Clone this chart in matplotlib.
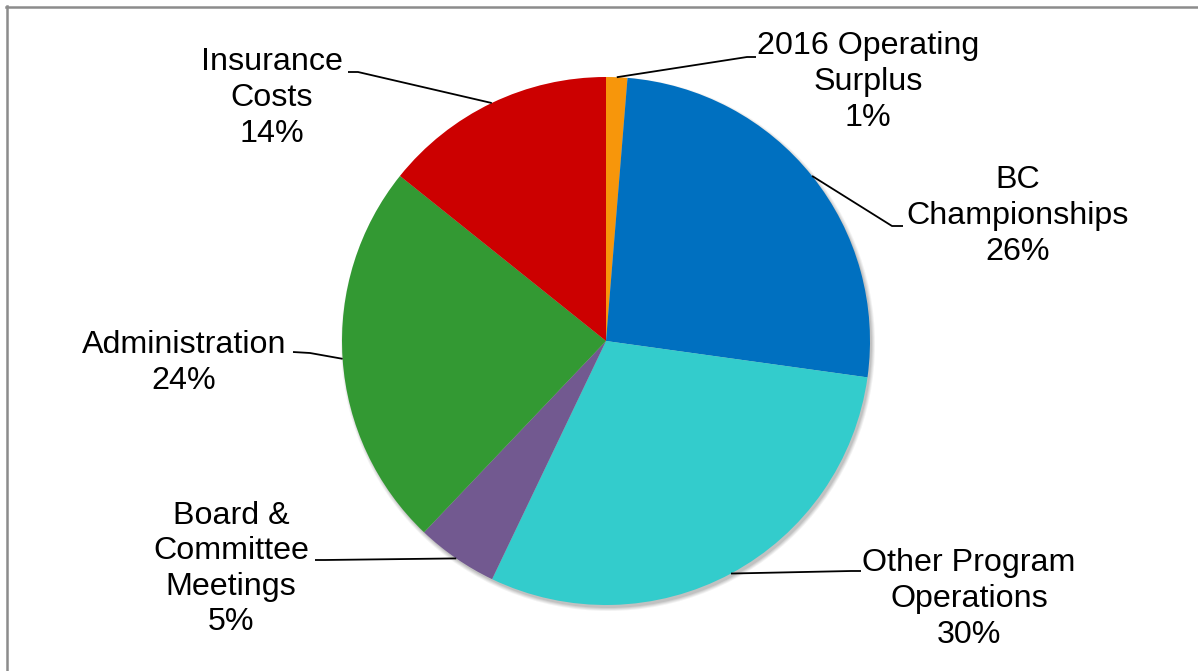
import numpy as np
import matplotlib.pyplot as plt
from matplotlib.patches import Circle
from matplotlib.lines import Line2D

plt.rcParams['font.family'] = ['Liberation Sans', 'DejaVu Sans']

# Data (share of total, %)
categories = ['2016 Operating\nSurplus', 'BC\nChampionships', 'Other Program\nOperations',
              'Board &\nCommittee\nMeetings', 'Administration', 'Insurance\nCosts']
values = [1.3, 25.9, 29.9, 5.0, 23.65, 14.25]
colors = ['#F7960B', '#0070C0', '#33CCCC', '#725990', '#339933', '#CC0000']

# layout, in image pixels (y measured from the top)
W, H = 1198, 671
cx, cy, R = 606, 341, 264
label_pos = [(868, 82), (1018, 216), (969, 599), (231, 569), (184, 363), (272, 98)]
elbows = [(747, 57), (892, 226), (851, 571), (325, 560), (310, 353), (358, 72)]
ends = [(756, 57), (903, 226), (861, 571), (315, 560), (293, 352), (348, 72)]

fig = plt.figure(figsize=(W / 100, H / 100), dpi=100)
ax = fig.add_axes([0, 0, 1, 1])

# soft shadow under the pie
for i, a in enumerate([0.08, 0.10, 0.12, 0.15]):
    ax.add_patch(Circle((cx + 2, H - cy - 3), R + 3 - i, color='#606060', alpha=a, lw=0, zorder=0))

wedges, _ = ax.pie(values, colors=colors, startangle=90, counterclock=False,
                   center=(cx, H - cy), radius=R, frame=True,
                   wedgeprops=dict(linewidth=0, zorder=1))
ax.set_xlim(0, W)
ax.set_ylim(0, H)
ax.set_aspect('equal')
ax.axis('off')

total = sum(values)
for w, cat, v, (tx, ty), (ex, ey), (nx, ny) in zip(wedges, categories, values, label_pos, elbows, ends):
    ang = np.deg2rad((w.theta1 + w.theta2) / 2)
    px, py = cx + R * np.cos(ang), (H - cy) + R * np.sin(ang)
    ax.plot([px, ex, nx], [py, H - ey, H - ny], color='black', lw=1.3, zorder=3,
            solid_capstyle='butt')
    ax.text(tx, H - ty, f'{cat}\n{round(v / total * 100):.0f}%', ha='center', va='center',
            fontsize=23.2, linespacing=1.24, color='black', zorder=4)

# chart area border (top and left visible)
fig.add_artist(Line2D([6 / W, 1], [1 - 7 / H, 1 - 7 / H], color='#8C8C8C', lw=1.8))
fig.add_artist(Line2D([7 / W, 7 / W], [0, 1 - 6 / H], color='#8C8C8C', lw=1.8))

fig.savefig('out.png', dpi=100, facecolor='white')
